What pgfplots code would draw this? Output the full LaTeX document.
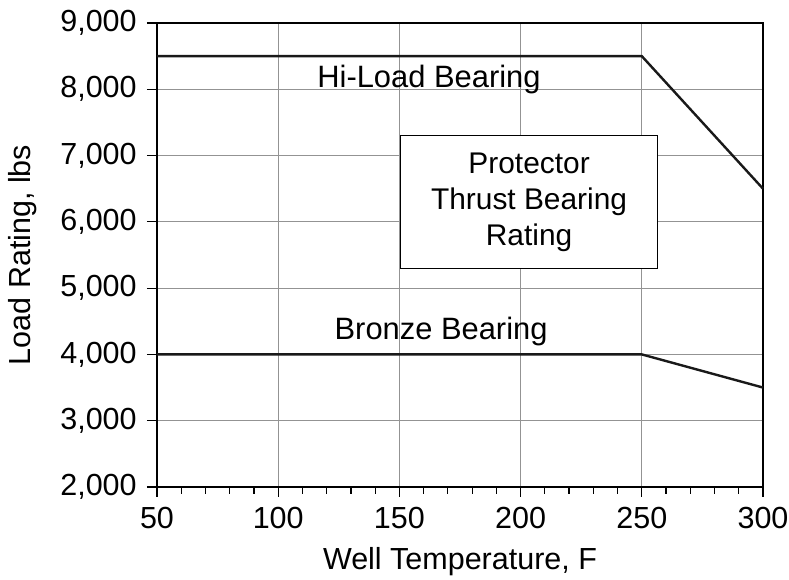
\documentclass[border=0pt]{standalone}
\usepackage{fontspec}
\setmainfont{Liberation Sans}
\usepackage{pgfplots}
\pgfplotsset{compat=1.18}
\usetikzlibrary{calc}
\begin{document}
\fontsize{15}{17}\selectfont
\begin{tikzpicture}
\begin{axis}[
  name=ax,
  scale only axis,
  width=303bp, height=232bp,
  xmin=50, xmax=300, ymin=2000, ymax=9000,
  xtick={50,100,...,300},
  minor x tick num=4,
  ytick={2000,3000,...,9000},
  scaled y ticks=false,
  /pgf/number format/1000 sep={,},
  /pgf/number format/assume math mode=true,
  tick align=outside,
  major tick length=5bp,
  minor tick length=3.5bp,
  xtick pos=bottom, ytick pos=left,
  grid=major,
  major grid style={gray!85, line width=0.5bp},
  axis line style={black, line width=0.8bp},
  tick style={black, line width=0.6bp},
  xlabel={Well Temperature, F},
  ylabel={Load Rating, lbs},
  xlabel style={yshift=1bp},
  ylabel style={yshift=1.5bp},
  tick label style={font=\fontsize{15.3}{17}\selectfont},
  label style={font=\fontsize{15.3}{18}\selectfont},
  clip=false,
]
\addplot[black!90, line width=1.2bp] coordinates {(50,8500) (250,8500) (300,6500)};
\addplot[black!90, line width=1.2bp] coordinates {(50,4000) (250,4000) (300,3500)};
\draw[black, line width=0.7bp, fill=white] (axis cs:150.5,5300) rectangle (axis cs:256.5,7300);
\node[align=center, font=\fontsize{15}{18}\selectfont] at (axis cs:203.5,6300) {Protector\\Thrust Bearing\\Rating};
\node[font=\fontsize{15.5}{18}\selectfont] at (axis cs:162.2,8150) {Hi-Load Bearing};
\node[font=\fontsize{15.5}{18}\selectfont] at (axis cs:167.2,4350) {Bronze Bearing};
\end{axis}
\pgfresetboundingbox
\path[use as bounding box] ($(ax.south west)+(-78.5bp,-46.5bp)$) rectangle ($(ax.north east)+(13bp,11.5bp)$);
\end{tikzpicture}
\end{document}
